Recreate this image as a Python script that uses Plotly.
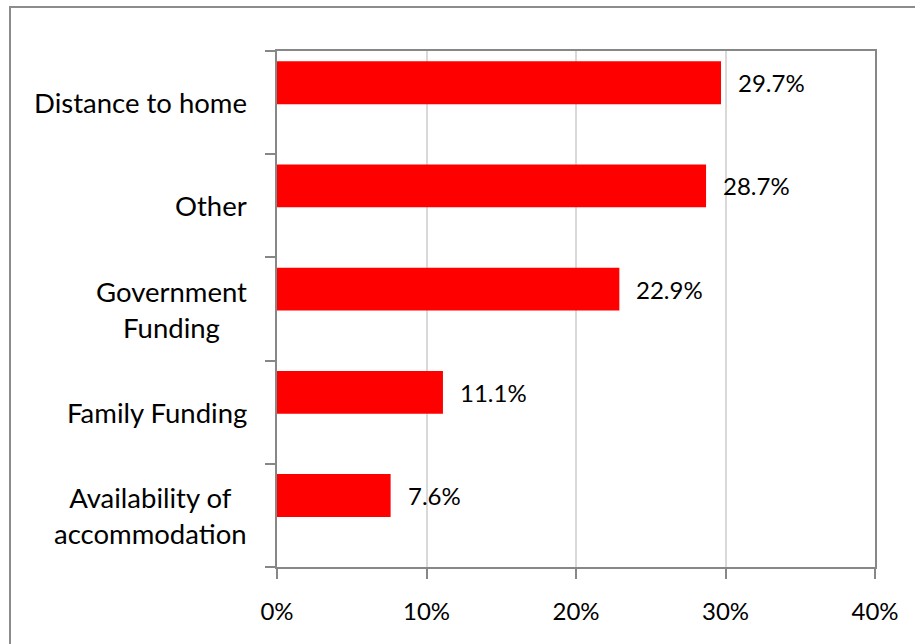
import plotly.graph_objects as go

# Reasons, listed bottom to top as drawn on the chart
categories = [
    "Availability of<br>accommodation",
    "Family Funding",
    "Government<br>Funding",
    "Other",
    "Distance to home",
]
values = [7.6, 11.1, 22.9, 28.7, 29.7]
value_labels = ["7.6%", "11.1%", "22.9%", "28.7%", "29.7%"]
x_ticks = [0, 10, 20, 30, 40]
x_tick_labels = ["0%", "10%", "20%", "30%", "40%"]

FONT = "Lato"
AXIS_GREY = "#878787"
GRID_GREY = "#d9d9d9"

positions = list(range(len(categories)))
BAR_WIDTH = 0.415
BAR_OFFSET = -0.015

fig = go.Figure()
fig.add_trace(
    go.Bar(
        x=values,
        y=positions,
        orientation="h",
        width=BAR_WIDTH,
        offset=BAR_OFFSET,
        marker=dict(color="#ff0000", line=dict(width=0)),
        hoverinfo="skip",
    )
)

annotations = []
# category labels, right-aligned blocks with centred lines
for pos, name in zip(positions, categories):
    annotations.append(
        dict(
            x=0, xref="paper", y=pos, yref="y",
            text=name, showarrow=False,
            xanchor="right", yanchor="middle", align="center",
            xshift=-28,
            font=dict(family=FONT, size=27.5, color="#000000"),
        )
    )
# value labels beside each bar
for pos, val, lab in zip(positions, values, value_labels):
    annotations.append(
        dict(
            x=val, xref="x", y=pos + BAR_OFFSET + BAR_WIDTH / 2, yref="y",
            text=lab, showarrow=False,
            xanchor="left", yanchor="middle",
            xshift=15,
            font=dict(family=FONT, size=24, color="#000000"),
        )
    )

# outer chart frame
shapes = [
    dict(
        type="rect", xref="paper", yref="paper",
        x0=(10 - 277) / 598, x1=(940 - 277) / 598,
        y0=(567 - 670) / 516, y1=(567 - 7) / 516,
        line=dict(color="#8c8c8c", width=2),
        fillcolor="rgba(0,0,0,0)",
        layer="below",
    )
]

fig.update_layout(
    width=915,
    height=644,
    margin=dict(l=277, r=40, t=51, b=77),
    paper_bgcolor="#ffffff",
    plot_bgcolor="#ffffff",
    showlegend=False,
    annotations=annotations,
    shapes=shapes,
    font=dict(family=FONT, color="#000000"),
)

fig.update_xaxes(
    range=[0, 40],
    tickvals=x_ticks,
    ticktext=x_tick_labels,
    ticks="outside",
    ticklen=10,
    tickwidth=2,
    tickcolor=AXIS_GREY,
    showline=True,
    linecolor=AXIS_GREY,
    linewidth=2,
    mirror=True,
    showgrid=True,
    gridcolor=GRID_GREY,
    gridwidth=2,
    zeroline=False,
    tickfont=dict(family=FONT, size=24, color="#000000"),
    ticklabelstandoff=12,
    fixedrange=True,
)

fig.update_yaxes(
    range=[-0.5, len(categories) - 0.5],
    tickvals=[p - 0.5 for p in range(len(categories) + 1)],
    ticktext=[""] * (len(categories) + 1),
    ticks="outside",
    ticklen=10,
    tickwidth=2,
    tickcolor=AXIS_GREY,
    showline=True,
    linecolor=AXIS_GREY,
    linewidth=2,
    mirror=True,
    showgrid=False,
    zeroline=False,
    fixedrange=True,
)

fig.write_html("out.html")
